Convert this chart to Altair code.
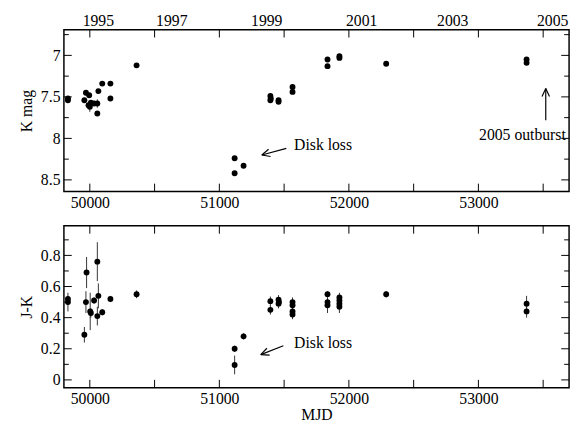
import math
import altair as alt
import pandas as pd

# ---------------- data ----------------
k_mjd = [49831, 49831, 49958, 49970, 49995, 49990, 50000, 50008, 50033, 50058, 50058,
         50066, 50096, 50159, 50159, 50361, 51118, 51118, 51187, 51394, 51394, 51397,
         51457, 51457, 51565, 51565, 51835, 51835, 51927, 51927, 52288, 53372, 53372]
k_mag = [7.52, 7.54, 7.54, 7.45, 7.48, 7.60, 7.62, 7.57, 7.58, 7.58, 7.70,
         7.43, 7.34, 7.34, 7.52, 7.12, 8.24, 8.42, 8.33, 7.49, 7.54, 7.52,
         7.54, 7.56, 7.38, 7.44, 7.05, 7.13, 7.01, 7.03, 7.10, 7.05, 7.09]
k_err = [0.02, 0.02, 0.02, 0.03, 0.02, 0.03, 0.06, 0.02, 0.02, 0.05, 0.02,
         0.02, 0.02, 0.02, 0.02, 0.02, 0.02, 0.02, 0.02, 0.02, 0.02, 0.02,
         0.02, 0.02, 0.02, 0.02, 0.02, 0.02, 0.02, 0.02, 0.02, 0.02, 0.02]

jk_mjd = [49831, 49831, 49958, 49970, 49975, 50003, 50008, 50033, 50058, 50058, 50066,
          50096, 50159, 50361, 51118, 51118, 51187, 51394, 51394, 51457, 51457, 51460,
          51565, 51565, 51565, 51565, 51835, 51835, 51835, 51927, 51927, 51927, 51927,
          52288, 53372, 53372]
jk_val = [0.52, 0.50, 0.29, 0.50, 0.69, 0.44, 0.43, 0.51, 0.76, 0.41, 0.54,
          0.435, 0.52, 0.55, 0.20, 0.096, 0.28, 0.506, 0.45, 0.515, 0.49, 0.50,
          0.50, 0.48, 0.44, 0.42, 0.55, 0.50, 0.48, 0.53, 0.51, 0.49, 0.47,
          0.55, 0.49, 0.44]
jk_err = [0.02, 0.06, 0.05, 0.07, 0.10, 0.12, 0.03, 0.02, 0.125, 0.06, 0.08,
          0.02, 0.02, 0.025, 0.02, 0.06, 0.02, 0.03, 0.03, 0.03, 0.03, 0.02,
          0.03, 0.03, 0.03, 0.03, 0.02, 0.03, 0.05, 0.03, 0.03, 0.03, 0.04,
          0.02, 0.05, 0.04]

year_labels = ["1995", "1997", "1999", "2001", "2003", "2005"]
year_mjd = [50066, 50633, 51366, 52099, 52802, 53573]

x_major = [50000, 51000, 52000, 53000]
x_ticks = [50000, 50500, 51000, 51500, 52000, 52500, 53000, 53500]
k_major = [7.0, 7.5, 8.0, 8.5]
k_minor = [6.75, 7.25, 7.75, 8.25]
jk_major = [0.0, 0.2, 0.4, 0.6, 0.8]
jk_minor = [0.1, 0.3, 0.5, 0.7, 0.9]

# ---------------- layout ----------------
W, H1, H2 = 515, 165, 165
FONT = "Liberation Serif"
FS = 16
X_DOM = [49800, 53700]
K_DOM = [6.69, 8.64]
JK_DOM = [-0.05, 0.99]

xscale = alt.Scale(domain=X_DOM, nice=False, zero=False)
kscale = alt.Scale(domain=K_DOM, nice=False, zero=False, reverse=True)
jkscale = alt.Scale(domain=JK_DOM, nice=False, zero=False)


def px(m):
    return (m - X_DOM[0]) / (X_DOM[1] - X_DOM[0]) * W


def inv_px(p):
    return X_DOM[0] + p / W * (X_DOM[1] - X_DOM[0])


def fy_k(v):
    return (v - K_DOM[0]) / (K_DOM[1] - K_DOM[0]) * H1


def inv_fy_k(p):
    return K_DOM[0] + p / H1 * (K_DOM[1] - K_DOM[0])


def fy_jk(v):
    return (JK_DOM[1] - v) / (JK_DOM[1] - JK_DOM[0]) * H2


def inv_fy_jk(p):
    return JK_DOM[1] - p / H2 * (JK_DOM[1] - JK_DOM[0])


def arrow_segments(x0, y0, x1, y1, fy, inv_fy, head=9, ang=25):
    """Shaft + two head lines; endpoints in data units, head drawn in pixel space."""
    p0 = (px(x0), fy(y0))
    p1 = (px(x1), fy(y1))
    dx, dy = p0[0] - p1[0], p0[1] - p1[1]
    L = math.hypot(dx, dy)
    ux, uy = dx / L, dy / L
    segs = [(x0, y0, x1, y1)]
    for s in (1, -1):
        a = math.radians(ang * s)
        hx = ux * math.cos(a) - uy * math.sin(a)
        hy = ux * math.sin(a) + uy * math.cos(a)
        q = (p1[0] + head * hx, p1[1] + head * hy)
        segs.append((x1, y1, inv_px(q[0]), inv_fy(q[1])))
    return pd.DataFrame(segs, columns=["x", "y", "x2", "y2"])


def x_axis(title=None):
    kw = dict(values=x_major, format="d", ticks=False, domain=False, grid=False,
              labelFont=FONT, labelFontSize=FS, labelColor="black", labelPadding=3,
              labelFlush=False)
    if title:
        kw.update(title=title, titleFont=FONT, titleFontSize=FS, titleFontWeight="normal",
                  titleColor="black", titlePadding=0)
    else:
        kw.update(title=None)
    return alt.Axis(**kw)


def y_axis(vals, title):
    return alt.Axis(values=vals, format="~g", ticks=False, domain=False, grid=False,
                    labelFont=FONT, labelFontSize=FS, labelColor="black", labelPadding=4,
                    title=title, titleFont=FONT, titleFontSize=FS, titleFontWeight="normal",
                    titleColor="black", titlePadding=6)


def panel(df_pts, ycol, yscale, yaxis, xaxis, H, ymaj, ymin, texts, arrows, extra_top=None):
    X = lambda f: alt.X(f, scale=xscale, axis=xaxis)
    Y = lambda f: alt.Y(f, scale=yscale, axis=yaxis)
    layers = []
    layers.append(alt.Chart(df_pts).mark_rule(color="#333333", strokeWidth=1).encode(
        x=X("mjd:Q"), y=Y("lo:Q"), y2="hi:Q"))
    layers.append(alt.Chart(df_pts).mark_circle(size=36, color="black", opacity=1).encode(
        x=X("mjd:Q"), y=Y(f"{ycol}:Q")))
    for tdf, align in texts:
        layers.append(alt.Chart(tdf).mark_text(font=FONT, fontSize=FS, color="black",
                                               align=align, baseline="middle").encode(
            x=X("mjd:Q"), y=Y("v:Q"), text="t:N"))
    layers.append(alt.Chart(arrows).mark_rule(color="black", strokeWidth=1.2).encode(
        x=X("x:Q"), x2="x2:Q", y=Y("y:Q"), y2="y2:Q"))
    if extra_top is not None:
        layers.append(alt.Chart(extra_top).mark_text(font=FONT, fontSize=FS, color="black",
                                                     baseline="middle").encode(
            x=X("mjd:Q"), y=alt.value(-9), text="lab:N"))
    # inward ticks on all four sides
    xt = pd.DataFrame({"t": x_ticks})
    for y0, y1 in ((0, 8), (H, H - 8)):
        layers.append(alt.Chart(xt).mark_rule(color="black", strokeWidth=1).encode(
            x=X("t:Q"), y=alt.value(y0), y2=alt.value(y1)))
    for vals, ln in ((ymaj, 8), (ymin, 5)):
        d = pd.DataFrame({"t": vals})
        for x0, x1 in ((0, ln), (W, W - ln)):
            layers.append(alt.Chart(d).mark_rule(color="black", strokeWidth=1).encode(
                y=Y("t:Q"), x=alt.value(x0), x2=alt.value(x1)))
    return alt.layer(*layers).properties(width=W, height=H)


# ---------------- top panel ----------------
kdf = pd.DataFrame({"mjd": k_mjd, "k": k_mag, "err": k_err})
kdf["lo"] = kdf["k"] - kdf["err"]
kdf["hi"] = kdf["k"] + kdf["err"]

ann_k = pd.DataFrame({"mjd": [51577], "v": [8.085], "t": ["Disk loss"]})
ann_o = pd.DataFrame({"mjd": [53340], "v": [7.955], "t": ["2005 outburst"]})
arr_k = pd.concat([arrow_segments(51517, 8.12, 51328, 8.20, fy_k, inv_fy_k),
                   arrow_segments(53520, 7.78, 53520, 7.40, fy_k, inv_fy_k)])
ydf = pd.DataFrame({"mjd": year_mjd, "lab": year_labels})

top = panel(kdf, "k", kscale, y_axis(k_major, "K mag"), x_axis(), H1, k_major, k_minor,
            [(ann_k, "left"), (ann_o, "center")], arr_k, extra_top=ydf)

# ---------------- bottom panel ----------------
jdf = pd.DataFrame({"mjd": jk_mjd, "jk": jk_val, "err": jk_err})
jdf["lo"] = jdf["jk"] - jdf["err"]
jdf["hi"] = jdf["jk"] + jdf["err"]

ann_j = pd.DataFrame({"mjd": [51577], "v": [0.2375], "t": ["Disk loss"]})
arr_j = arrow_segments(51494, 0.219, 51320, 0.1625, fy_jk, inv_fy_jk)

bottom = panel(jdf, "jk", jkscale, y_axis(jk_major, "J-K"), x_axis("MJD"), H2,
               jk_major, jk_minor, [(ann_j, "left")], arr_j)

chart = alt.vconcat(top, bottom, spacing=13).properties(
    padding={"left": 10, "top": 0, "right": 2, "bottom": 0},
    background="white",
).configure_view(stroke="black", strokeWidth=1.5)

chart.save("out.html", embed_options={"renderer": "svg", "actions": False})
